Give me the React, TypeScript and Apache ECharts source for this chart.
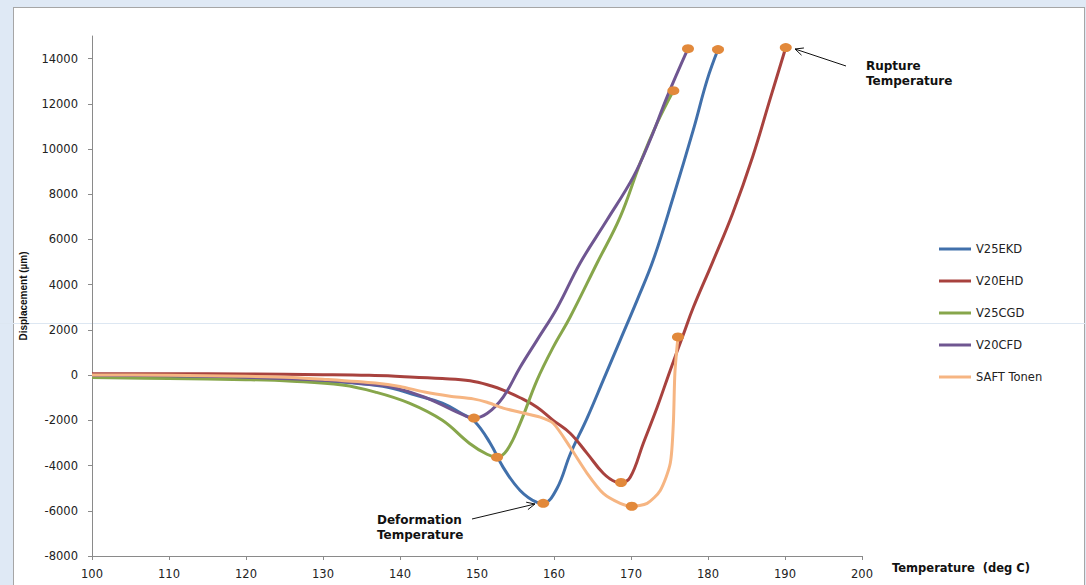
import React, { useEffect, useRef } from "react";
import * as echarts from "echarts";

// ---------- data ----------
const seriesNames = ["V25EKD", "V20EHD", "V25CGD", "V20CFD", "SAFT Tonen"];

// [temperature (deg C), displacement (µm)]
const v25ekd: number[][] = [
  [100, -60], [110, -90], [120, -130], [126, -180], [132, -300], [136, -420],
  [139, -580], [142, -880], [145.5, -1240], [148, -1700], [149.7, -2050],
  [151.7, -3000], [153.4, -4080], [155.6, -5100], [157.8, -5630], [158.6, -5670],
  [160.4, -5000], [162.1, -3500], [164.3, -1900], [166.4, -220], [168.6, 1550],
  [170.8, 3320], [172.9, 5100], [175.5, 7890], [178.1, 10860], [179.9, 13070],
  [181.3, 14400],
];
const v20ehd: number[][] = [
  [100, 60], [110, 60], [120, 50], [130, 20], [136, -10], [140, -60],
  [145.5, -150], [149.1, -250], [151.9, -480], [153.4, -660], [155.6, -1000],
  [157.8, -1420], [159.9, -2000], [162.1, -2570], [164.3, -3460], [166.4, -4340],
  [168, -4720], [168.7, -4750], [169.9, -4520], [171.6, -3010], [173.4, -1420],
  [175.1, 220], [176.8, 1800], [178.1, 3000], [180.6, 5000], [183.2, 7150],
  [185.8, 9660], [188.1, 12250], [190.1, 14490],
];
const v25cgd: number[][] = [
  [100, -110], [110, -150], [120, -200], [126, -270], [132.5, -440], [136.8, -750],
  [141.2, -1240], [145.5, -2000], [149, -3010], [151.3, -3500], [152.6, -3630],
  [153.9, -3320], [155.6, -2130], [157.8, -220], [159.9, 1240], [162.1, 2570],
  [165.6, 4960], [168.6, 7000], [171.2, 9390], [173.4, 11160], [175.5, 12580],
];
const v20cfd: number[][] = [
  [100, 0], [110, -30], [120, -90], [130, -230], [136, -400], [139, -530],
  [143.2, -970], [147.7, -1680], [149.6, -1900], [151.3, -1700], [153.4, -970],
  [155.6, 350], [157.8, 1550], [160.4, 2970], [163.4, 4960], [166.9, 6870],
  [170.3, 8770], [172.5, 10410], [174.7, 12320], [177.4, 14440],
];
const saftTonen: number[][] = [
  [100, 10], [110, -10], [120, -50], [126, -100], [130, -180], [136.8, -350],
  [140, -500], [143.2, -750], [146.5, -930], [149.5, -1050], [151.3, -1200],
  [153.4, -1460], [155.6, -1640], [158.2, -1860], [159.9, -2130], [162.1, -3190],
  [164.3, -4340], [166.4, -5230], [168.6, -5670], [170.1, -5800], [172.1, -5670],
  [173.8, -5100], [175.1, -3900], [175.5, -2130], [175.7, 90], [176.1, 1690],
];
const seriesData = [v25ekd, v20ehd, v25cgd, v20cfd, saftTonen];

const deformationPoints: number[][] = [
  [158.6, -5670], [168.7, -4750], [152.6, -3630], [149.6, -1900], [170.1, -5800],
];
const rupturePoints: number[][] = [
  [181.3, 14400], [190.1, 14490], [175.5, 12580], [177.4, 14440], [176.1, 1690],
];

const yTickValues = [-8000, -6000, -4000, -2000, 0, 2000, 4000, 6000, 8000, 10000, 12000, 14000];

// ---------- styles ----------
const seriesColors = ["#4170ab", "#a8423e", "#87a64b", "#6f5691", "#f6b582"];
const markerColor = "#e2893b";
const axisColor = "#8a8a8a";
const labelColor = "#222";
const FONT = "DejaVu Sans";

function arrowGraphics(tail: number[], head: number[]) {
  const dx = head[0] - tail[0];
  const dy = head[1] - tail[1];
  const len = Math.hypot(dx, dy);
  const bx = -dx / len;
  const by = -dy / len;
  const a = (25 * Math.PI) / 180;
  const w = 9;
  const r1 = [bx * Math.cos(a) - by * Math.sin(a), bx * Math.sin(a) + by * Math.cos(a)];
  const r2 = [bx * Math.cos(-a) - by * Math.sin(-a), bx * Math.sin(-a) + by * Math.cos(-a)];
  const style = { stroke: "#111", lineWidth: 1, fill: "none" };
  return [
    { type: "line", shape: { x1: tail[0], y1: tail[1], x2: head[0], y2: head[1] }, style, z: 10 },
    {
      type: "polyline",
      shape: {
        points: [
          [head[0] + r1[0] * w, head[1] + r1[1] * w],
          [head[0], head[1]],
          [head[0] + r2[0] * w, head[1] + r2[1] * w],
        ],
      },
      style,
      z: 10,
    },
  ];
}

export default function App() {
  const ref = useRef<HTMLDivElement>(null);

  useEffect(() => {
    if (!ref.current) return;
    const chart = echarts.init(ref.current, undefined, { renderer: "svg" });

    const lineSeries = seriesNames.map((name, i) => ({
      name,
      type: "line",
      data: seriesData[i],
      symbol: "none",
      smooth: i === 4 ? 0.25 : 0.4,
      lineStyle: { color: seriesColors[i], width: 3 },
      itemStyle: { color: seriesColors[i] },
      z: 3,
    }));

    const textStyle = { fontFamily: FONT, fontWeight: "bold", fontSize: 12, fill: "#111", lineHeight: 15 };

    chart.setOption({
      animation: false,
      backgroundColor: "transparent",
      grid: { left: 92, right: 224, top: 36, bottom: 29, containLabel: false, outerBoundsMode: "none" },
      legend: {
        data: seriesNames.map((name) => ({ name, icon: "rect" })),
        orient: "vertical",
        left: 934,
        top: 238,
        itemWidth: 32,
        itemHeight: 3,
        itemGap: 20,
        textStyle: { fontFamily: FONT, fontSize: 11.5, color: labelColor },
      },
      xAxis: {
        type: "value",
        min: 100,
        max: 200,
        interval: 10,
        axisLine: { show: true, onZero: false, lineStyle: { color: axisColor, width: 1 } },
        axisTick: { show: true, inside: false, length: 4, lineStyle: { color: axisColor } },
        axisLabel: { margin: 12, color: labelColor, fontSize: 11.5, fontFamily: FONT },
        splitLine: { show: false },
      },
      yAxis: {
        type: "value",
        min: -8000,
        max: 15000,
        name: "Displacement (µm)",
        nameLocation: "middle",
        nameGap: 64,
        nameRotate: 90,
        nameTextStyle: {
          fontFamily: "Liberation Sans",
          fontWeight: "bold",
          fontSize: 10,
          color: "#111",
        },
        axisLine: { show: true, onZero: false, lineStyle: { color: axisColor, width: 1 } },
        axisTick: { show: true, inside: false, length: 4, customValues: yTickValues, lineStyle: { color: axisColor } },
        axisLabel: {
          margin: 14,
          color: labelColor,
          fontSize: 11.5,
          fontFamily: FONT,
          customValues: yTickValues,
          formatter: (v: number) => String(v),
        },
        splitLine: { show: false },
      },
      series: [
        ...lineSeries,
        {
          name: "Deformation Temperature",
          type: "scatter",
          data: deformationPoints,
          symbol: "circle",
          symbolSize: [12, 9],
          itemStyle: { color: markerColor, opacity: 1 },
          z: 5,
        },
        {
          name: "Rupture Temperature",
          type: "scatter",
          data: rupturePoints,
          symbol: "circle",
          symbolSize: [12, 9],
          itemStyle: { color: markerColor, opacity: 1 },
          z: 5,
        },
      ],
      graphic: [
        {
          type: "line",
          shape: { x1: 0, y1: 323.5, x2: 1086, y2: 323.5 },
          style: { stroke: "#dde7f2", lineWidth: 1 },
          z: 0,
        },
        {
          type: "text",
          x: 866,
          y: 58,
          style: { ...textStyle, text: "Rupture\nTemperature", verticalAlign: "top", align: "left" },
          z: 10,
        },
        {
          type: "text",
          x: 377,
          y: 512,
          style: { ...textStyle, text: "Deformation\nTemperature", verticalAlign: "top", align: "left" },
          z: 10,
        },
        {
          type: "text",
          x: 892,
          y: 560,
          style: { ...textStyle, fontSize: 11.5, text: "Temperature  (deg C)", verticalAlign: "top", align: "left" },
          z: 10,
        },
        ...arrowGraphics([846, 66], [795, 49]),
        ...arrowGraphics([472, 519], [535, 504]),
      ],
    });

    return () => chart.dispose();
  }, []);

  return (
    <div
      style={{
        position: "absolute",
        left: 0,
        top: 0,
        width: 1086,
        height: 585,
        overflow: "hidden",
        background: "#dfe9f5",
      }}
    >
      <div
        style={{
          position: "absolute",
          left: 13,
          top: 7,
          width: 1070,
          height: 600,
          background: "#ffffff",
          border: "1px solid #a6a6a6",
        }}
      />
      <div ref={ref} style={{ position: "absolute", left: 0, top: 0, width: 1086, height: 585 }} />
    </div>
  );
}
